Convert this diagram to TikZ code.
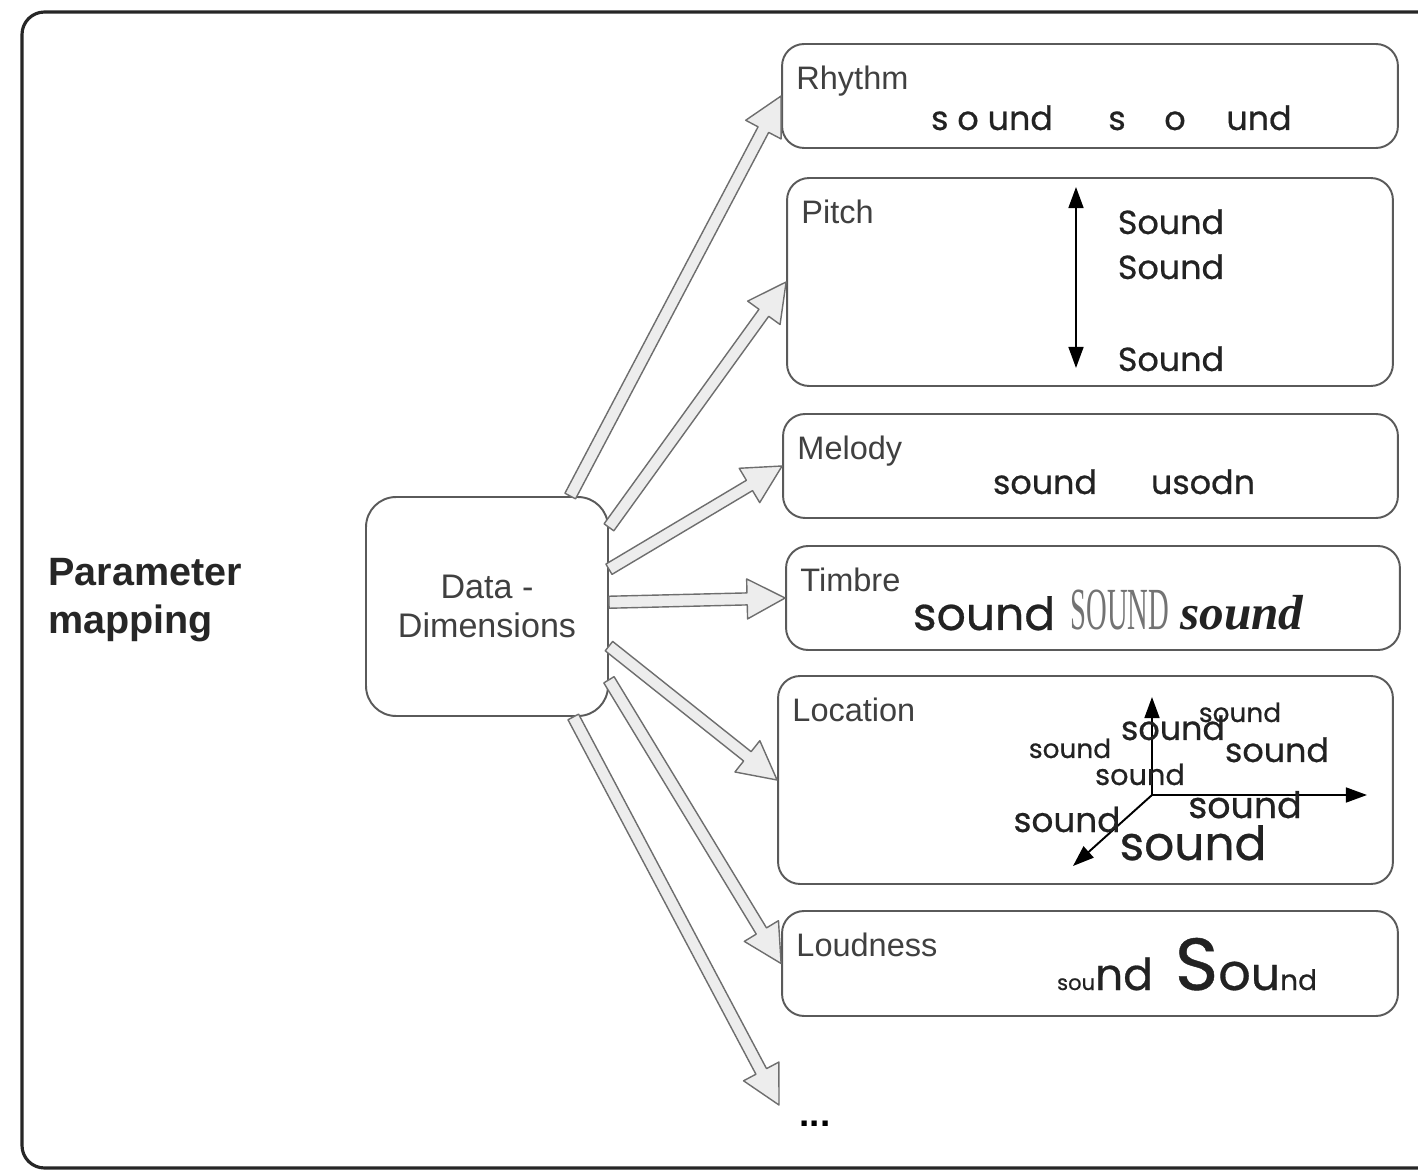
\documentclass[tikz,border=0pt]{standalone}
\usepackage{fontspec}
\setmainfont{Liberation Sans}
\newfontfamily\futura[FakeBold=0.6]{Poppins}
\newfontfamily\serifface{Liberation Serif}
\usetikzlibrary{arrows.meta,calc}
\definecolor{boxline}{HTML}{5A5A5A}
\definecolor{labelgray}{HTML}{404040}
\definecolor{arrowfill}{HTML}{EDEDED}
\definecolor{arrowline}{HTML}{6E6E6E}
\definecolor{soundink}{HTML}{222222}
\newcommand\fs[1]{\fontsize{#1}{#1}\selectfont}
\tikzset{
  panel/.style={draw=boxline, line width=1.1pt, rounded corners=0.44cm, fill=white},
  tag/.style={anchor=base west, inner sep=0pt, text=labelgray, font=\fs{18.5}},
  snd/.style={anchor=base, inner sep=0pt, text=soundink, font=\futura\fs{19}},
  fatarrow/.style={draw=arrowline, fill=arrowfill, line width=0.8pt, line join=round},
  axis/.style={line width=1.1pt, {Triangle[length=12pt,width=8.5pt]}-{Triangle[length=12pt,width=8.5pt]}},
}
% hollow block arrow from #1 to #2
\newcommand\blockarrow[2]{%
  \draw[fatarrow]
    ($(#1)!0.12cm!90:(#2)$)
    -- ($($(#2)!0.76cm!(#1)$)!0.12cm!90:(#2)$)
    -- ($($(#2)!0.76cm!(#1)$)!0.4cm!90:(#2)$)
    -- (#2)
    -- ($($(#2)!0.76cm!(#1)$)!0.4cm!-90:(#2)$)
    -- ($($(#2)!0.76cm!(#1)$)!0.12cm!-90:(#2)$)
    -- ($(#1)!0.12cm!-90:(#2)$) -- cycle;}
\begin{document}
\begin{tikzpicture}[x=0.02cm, y=-0.02cm]
    \useasboundingbox (0,0) rectangle (1418,1172);
    \fill[white] (0,0) rectangle (1418,1172);
    \draw[line width=1.8pt, rounded corners=0.45cm, draw=black!85] (22,12) rectangle (1460,1168);

    \node[anchor=west, inner sep=0pt, align=left, text=black!85,
          font=\bfseries\fontsize{22.5}{27}\selectfont] (title) at (48,600) {Parameter\\mapping};

    % panels
    \node[panel, minimum width=12.32cm, minimum height=2.08cm] (rhythm)   at (1090,96)    {};
    \node[panel, minimum width=12.12cm, minimum height=4.16cm] (pitch)    at (1090,282)   {};
    \node[panel, minimum width=12.30cm, minimum height=2.08cm] (melody)   at (1090.5,466) {};
    \node[panel, minimum width=12.28cm, minimum height=2.08cm] (timbre)   at (1093,598)   {};
    \node[panel, minimum width=12.30cm, minimum height=4.16cm] (location) at (1085.5,780) {};
    \node[panel, minimum width=12.32cm, minimum height=2.10cm] (loudness) at (1090,963.5) {};
    \node[panel, rounded corners=0.6cm, minimum width=4.84cm, minimum height=4.38cm,
          align=center, text=labelgray, font=\fontsize{19.4}{22.7}\selectfont] (data) at (487,606.5) {Data -\\Dimensions};
    \node[inner sep=0pt, font=\bfseries\fs{21}] (dots) at (815,1124) {...};
    \coordinate (more) at (779,1105);

    \foreach \p/\l in {rhythm/Rhythm, pitch/Pitch, melody/Melody, timbre/Timbre, location/Location, loudness/Loudness}
        \node[tag] (\p tag) at ($(\p.north west)+(15,46)$) {\l};

    % mapping arrows
    \foreach \a/\t in {53/rhythm.west, 33/pitch.west, 17/melody.west, 2/timbre.west,
                       342/location.west, 329/loudness.west, 308/more}
        \blockarrow{data.\a}{\t};

    % rhythm
    \node[snd] (r1) at (992,130)  {s o und};
    \node[snd] (r2) at (1117,130) {s};
    \node[snd] (r3) at (1175,130) {o};
    \node[snd] (r4) at (1259,130) {und};

    % pitch
    \coordinate (ptop) at (1076,187);
    \coordinate (pbot) at (1076,368);
    \draw[axis] (ptop) -- (pbot);
    \node[snd] (p1) at (1171,234) {Sound};
    \node[snd] (p2) at (1171,279) {Sound};
    \node[snd] (p3) at (1171,371) {Sound};

    % melody
    \node[snd] (m1) at (1045,494) {sound};
    \node[snd] (m2) at (1203,494) {usodn};

    % timbre
    \node[snd, font=\futura\fs{26}] (t1) at (984,630) {sound};
    \node[snd, text=black!55] (t2) at (1120,630) {\scalebox{0.48}[1]{\serifface\fs{34}SOUND}};
    \node[snd, font=\serifface\bfseries\itshape\fs{28}] (t3) at (1242,630) {sound};

    % location
    \coordinate (lo) at (1152,795);
    \coordinate (lup) at (1152,697);
    \coordinate (lright) at (1367,795);
    \coordinate (ldiag) at (1073,866);
    \draw[line width=1.1pt, -{Triangle[length=12pt,width=8.5pt]}] (lo) -- (lup);
    \draw[line width=1.1pt, -{Triangle[length=12pt,width=8.5pt]}] (lo) -- (lright);
    \draw[line width=1.1pt, -{Triangle[length=12pt,width=8.5pt]}] (lo) -- (ldiag);
    \foreach \x/\y/\s [count=\i] in {1070/758/15, 1173/740/19, 1240/722/15, 1277/762/19,
                                    1140/785/16.4, 1067/832/19.5, 1245/818/20.7, 1193/860/26.8}
        \node[snd, font=\futura\fs{\s}] (l\i) at (\x,\y) {sound};

    % loudness
    \node[snd] (v1) at (1105,990) {\fs{12}sou\fs{25}nd};
    \node[snd] (v2) at (1246,990) {\fs{42}S\fs{29}o\fs{26}u\fs{16}nd};
\end{tikzpicture}
\end{document}
